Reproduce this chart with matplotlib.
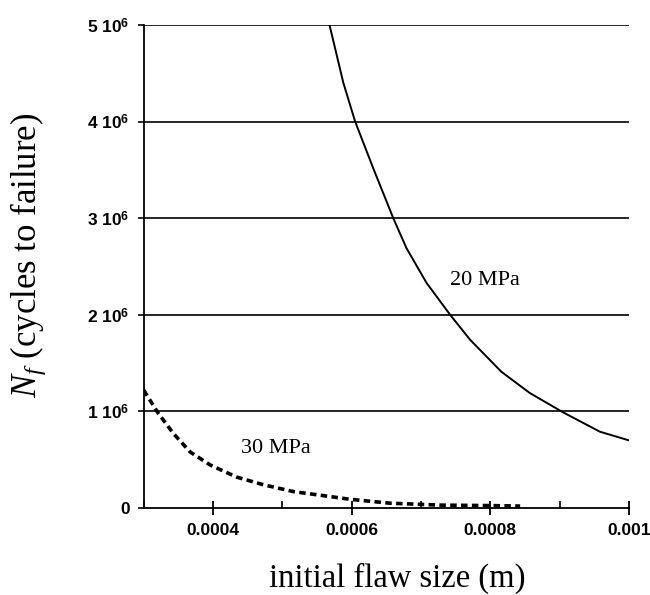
import numpy as np
import matplotlib
matplotlib.use("Agg")
import matplotlib.pyplot as plt
from matplotlib.ticker import MultipleLocator

# fonts: sans bold for ticks, Times-like serif for labels
plt.rcParams['mathtext.fontset'] = 'custom'
plt.rcParams['mathtext.rm'] = 'Liberation Sans:bold'
plt.rcParams['mathtext.it'] = 'Liberation Serif:italic'

# data
x_20 = [0.000568, 0.000588, 0.000605, 0.000632, 0.000660, 0.000679, 0.000708,
        0.000742, 0.000771, 0.000816, 0.000857, 0.000905, 0.000958, 0.001]
n_20 = [5.0e6, 4.40e6, 4.0e6, 3.50e6, 3.0e6, 2.69e6, 2.33e6,
        2.0e6, 1.74e6, 1.41e6, 1.19e6, 0.99e6, 0.79e6, 0.70e6]

x_30 = [0.0003, 0.000321, 0.000343, 0.000367, 0.000396, 0.000434, 0.000473,
        0.000516, 0.000598, 0.000655, 0.000727, 0.0008, 0.000843]
n_30 = [1.22e6, 0.98e6, 0.77e6, 0.58e6, 0.445e6, 0.32e6, 0.24e6,
        0.17e6, 0.09e6, 0.05e6, 0.03e6, 0.025e6, 0.02e6]

y_ticks = [0, 1e6, 2e6, 3e6, 4e6, 5e6]
y_labels = ["0", r"1 10$^6$", r"2 10$^6$", r"3 10$^6$", r"4 10$^6$", r"5 10$^6$"]
x_ticks = [0.0004, 0.0006, 0.0008, 0.001]
x_labels = ["0.0004", "0.0006", "0.0008", "0.001"]

fig = plt.figure(figsize=(6.5, 5.95), dpi=100)
ax = fig.add_axes([0.2211, 0.1462, 0.7466, 0.8118])

# horizontal grid lines
for yv in y_ticks[1:]:
    ax.axhline(yv, color="black", lw=1.2, zorder=1)

ax.plot(x_20, n_20, color="black", lw=1.4, zorder=3)
ax.plot(x_30, n_30, color="black", lw=2.6, ls=(0, (1.8, 1.2)), zorder=3)

ax.text(0.000792, 2.36e6, "20 MPa", family="Liberation Serif", fontsize=16,
        ha="center", va="center")
ax.text(0.000490, 0.62e6, "30 MPa", family="Liberation Serif", fontsize=16,
        ha="center", va="center")

ax.set_xlim(0.0003, 0.001)
ax.set_ylim(0, 5e6)
ax.set_xticks(x_ticks)
ax.set_xticklabels(x_labels, family="Liberation Sans", fontweight="bold", fontsize=12.5)
ax.xaxis.set_minor_locator(MultipleLocator(0.0001))
ax.set_yticks(y_ticks)
ax.set_yticklabels(y_labels, family="Liberation Sans", fontweight="bold", fontsize=12.5)

ax.tick_params(axis="x", which="major", direction="inout", length=10, width=1.3, pad=6)
ax.tick_params(axis="x", which="minor", direction="in", length=5, width=1.2)
ax.tick_params(axis="y", which="major", direction="out", length=4, width=1.2, pad=6)

for s in ["top", "right"]:
    ax.spines[s].set_visible(False)
for s in ["left", "bottom"]:
    ax.spines[s].set_linewidth(1.3)

# axis titles placed in figure coordinates
fig.text(397 / 650, 1 - 587 / 595, "initial flaw size (m)", family="Liberation Serif",
         fontsize=23.5, ha="center", va="baseline")
fig.text(28 / 650, 1 - 255 / 595, r"$N_f$ (cycles to failure)", family="Liberation Serif",
         fontsize=25, rotation=90, ha="center", va="center")

fig.savefig("out.png", dpi=100)
